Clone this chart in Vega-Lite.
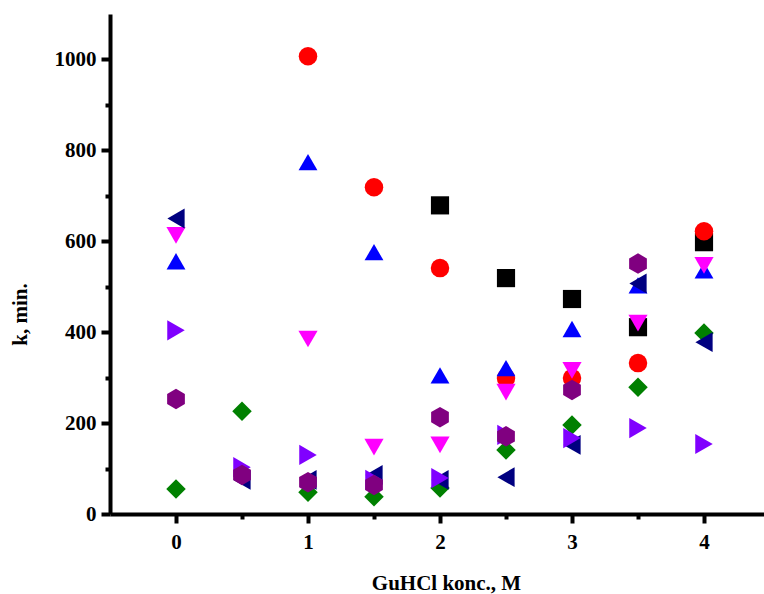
{
  "$schema": "https://vega.github.io/schema/vega-lite/v6.json",
  "autosize": {"type": "none"},
  "padding": {"left": 110, "top": 14, "right": 0, "bottom": 80},
  "width": 660,
  "height": 500,
  "background": "white",
  "config": {
    "view": {"stroke": null},
    "axis": {
      "domainColor": "black",
      "domainWidth": 4,
      "tickColor": "black",
      "tickWidth": 4,
      "grid": false,
      "labelFont": "Liberation Serif",
      "labelFontWeight": "bold",
      "labelFontSize": 21,
      "labelColor": "black",
      "titleFont": "Liberation Serif",
      "titleFontWeight": "bold",
      "titleFontSize": 21,
      "titleColor": "black"
    }
  },
  "data": {
    "values": [
      {"series": "S1", "x": 2, "y": 679},
      {"series": "S1", "x": 2.5, "y": 519},
      {"series": "S1", "x": 3, "y": 473},
      {"series": "S1", "x": 3.5, "y": 411},
      {"series": "S1", "x": 4, "y": 598},
      {"series": "S2", "x": 1, "y": 1007},
      {"series": "S2", "x": 1.5, "y": 719},
      {"series": "S2", "x": 2, "y": 541},
      {"series": "S2", "x": 2.5, "y": 299},
      {"series": "S2", "x": 3, "y": 299},
      {"series": "S2", "x": 3.5, "y": 332},
      {"series": "S2", "x": 4, "y": 622},
      {"series": "S3", "x": 0, "y": 556},
      {"series": "S3", "x": 1, "y": 774},
      {"series": "S3", "x": 1.5, "y": 576},
      {"series": "S3", "x": 2, "y": 305},
      {"series": "S3", "x": 2.5, "y": 321},
      {"series": "S3", "x": 3, "y": 407},
      {"series": "S3", "x": 3.5, "y": 503},
      {"series": "S3", "x": 4, "y": 536},
      {"series": "S4", "x": 0, "y": 613},
      {"series": "S4", "x": 1, "y": 385},
      {"series": "S4", "x": 1.5, "y": 147},
      {"series": "S4", "x": 2, "y": 152},
      {"series": "S4", "x": 2.5, "y": 268},
      {"series": "S4", "x": 3, "y": 316},
      {"series": "S4", "x": 3.5, "y": 420},
      {"series": "S4", "x": 4, "y": 547},
      {"series": "S5", "x": 0, "y": 55},
      {"series": "S5", "x": 0.5, "y": 226},
      {"series": "S5", "x": 1, "y": 48},
      {"series": "S5", "x": 1.5, "y": 38},
      {"series": "S5", "x": 2, "y": 57},
      {"series": "S5", "x": 2.5, "y": 141},
      {"series": "S5", "x": 3, "y": 196},
      {"series": "S5", "x": 3.5, "y": 279},
      {"series": "S5", "x": 4, "y": 398},
      {"series": "S6", "x": 0, "y": 650},
      {"series": "S6", "x": 0.5, "y": 75},
      {"series": "S6", "x": 1, "y": 75},
      {"series": "S6", "x": 1.5, "y": 86},
      {"series": "S6", "x": 2, "y": 75},
      {"series": "S6", "x": 2.5, "y": 81},
      {"series": "S6", "x": 3, "y": 152},
      {"series": "S6", "x": 3.5, "y": 507},
      {"series": "S6", "x": 4, "y": 378},
      {"series": "S7", "x": 0, "y": 404},
      {"series": "S7", "x": 0.5, "y": 103},
      {"series": "S7", "x": 1, "y": 130},
      {"series": "S7", "x": 1.5, "y": 75},
      {"series": "S7", "x": 2, "y": 79},
      {"series": "S7", "x": 2.5, "y": 174},
      {"series": "S7", "x": 3, "y": 167},
      {"series": "S7", "x": 3.5, "y": 189},
      {"series": "S7", "x": 4, "y": 154},
      {"series": "S8", "x": 0, "y": 253},
      {"series": "S8", "x": 0.5, "y": 86},
      {"series": "S8", "x": 1, "y": 70},
      {"series": "S8", "x": 1.5, "y": 64},
      {"series": "S8", "x": 2, "y": 213},
      {"series": "S8", "x": 2.5, "y": 171},
      {"series": "S8", "x": 3, "y": 273},
      {"series": "S8", "x": 3.5, "y": 551}
    ]
  },
  "mark": {"type": "point", "filled": true, "opacity": 1, "strokeWidth": 0},
  "encoding": {
    "x": {
      "field": "x", "type": "quantitative",
      "scale": {"domain": [-0.5, 4.5], "nice": false, "zero": false},
      "axis": {
        "title": "GuHCl konc., M",
        "values": [0, 0.5, 1, 1.5, 2, 2.5, 3, 3.5, 4],
        "format": "~g",
        "labelExpr": "datum.value % 1 === 0 ? datum.label : ''",
        "tickSize": {"expr": "datum.value % 1 === 0 ? 9 : 5"},
        "labelPadding": 8,
        "titleX": 336,
        "titleY": 69,
        "titleBaseline": "middle"
      }
    },
    "y": {
      "field": "y", "type": "quantitative",
      "scale": {"domain": [0, 1100], "nice": false},
      "axis": {
        "title": "k, min.",
        "values": [0, 100, 200, 300, 400, 500, 600, 700, 800, 900, 1000],
        "format": "d",
        "labelExpr": "datum.value % 200 === 0 ? datum.label : ''",
        "tickSize": {"expr": "datum.value % 200 === 0 ? 9 : 5"},
        "labelPadding": 5,
        "titleX": -90,
        "titleY": 300,
        "titleBaseline": "middle"
      }
    },
    "color": {
      "field": "series", "type": "nominal", "legend": null,
      "scale": {
        "domain": ["S1", "S2", "S3", "S4", "S5", "S6", "S7", "S8"],
        "range": ["#000000", "#FF0000", "#0000FF", "#FF00FF", "#008000", "#000080", "#8000FF", "#800080"]
      }
    },
    "shape": {
      "field": "series", "type": "nominal", "legend": null,
      "scale": {
        "domain": ["S1", "S2", "S3", "S4", "S5", "S6", "S7", "S8"],
        "range": ["square", "circle", "triangle-up", "triangle-down", "diamond", "triangle-left", "triangle-right", "M0,-1L0.866,-0.5L0.866,0.5L0,1L-0.866,0.5L-0.866,-0.5Z"]
      }
    },
    "size": {
      "field": "series", "type": "nominal", "legend": null,
      "scale": {
        "domain": ["S1", "S2", "S3", "S4", "S5", "S6", "S7", "S8"],
        "range": [330, 420, 600, 560, 620, 560, 560, 520]
      }
    }
  }
}
